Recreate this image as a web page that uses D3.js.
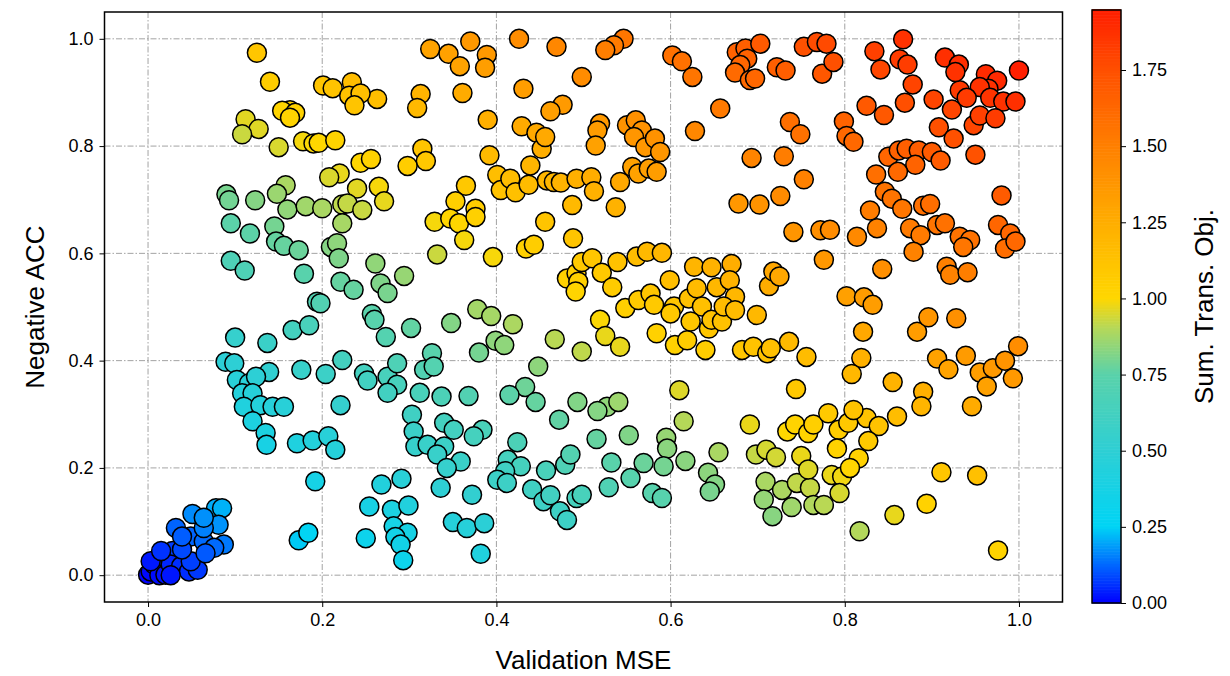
<!DOCTYPE html>
<html>
<head>
<meta charset="utf-8">
<script src="https://cdn.jsdelivr.net/npm/d3@7"></script>
<style>
  body { margin: 0; background: #fff; }
  text { font-family: "Liberation Sans", Arial, sans-serif; fill: #000; }
</style>
</head>
<body>
<svg id="chart" width="1230" height="676"></svg>
<script>
"use strict";

// values, grouped by area of the plot (x = Validation MSE, y = Negative ACC)
const mseTopLeft = [0.125,0.140,0.201,0.212,0.163,0.154,0.169,0.163,0.112,0.127,0.108,0.150,0.178,0.190,0.196,0.215,0.220,0.208,0.158,0.148,0.090,0.093,0.123,0.160,0.181,0.200,0.223];
const accTopLeft = [0.974,0.920,0.913,0.908,0.867,0.866,0.862,0.853,0.850,0.832,0.822,0.798,0.809,0.805,0.806,0.811,0.749,0.742,0.727,0.711,0.710,0.699,0.699,0.682,0.688,0.684,0.691];

const mseTopMid = [0.324,0.345,0.370,0.358,0.389,0.387,0.426,0.469,0.498,0.431,0.476,0.462,0.361,0.313,0.309,0.390,0.429,0.446,0.452,0.456,0.263,0.234,0.231,0.244,0.237,0.315,0.319,0.298,0.392,0.401,0.405,0.416,0.422,0.439,0.437,0.458,0.466,0.474,0.492,0.487,0.365,0.353,0.376,0.244,0.256,0.240,0.265,0.271,0.229,0.246];
const accTopMid = [0.981,0.972,0.995,0.949,0.970,0.946,1.000,0.985,0.929,0.907,0.877,0.865,0.899,0.897,0.871,0.849,0.837,0.825,0.795,0.817,0.888,0.919,0.894,0.898,0.876,0.795,0.772,0.763,0.783,0.746,0.718,0.739,0.714,0.764,0.728,0.736,0.733,0.732,0.739,0.690,0.726,0.697,0.683,0.769,0.776,0.721,0.724,0.697,0.693,0.681];

const mseTopRight = [0.546,0.535,0.525,0.602,0.613,0.625,0.676,0.686,0.688,0.680,0.674,0.691,0.697,0.703,0.722,0.732,0.753,0.768,0.774,0.657,0.628,0.737,0.749,0.693,0.730,0.753,0.726,0.678,0.702,0.519,0.516,0.514,0.509,0.512,0.537,0.542,0.550,0.560,0.567,0.558,0.571,0.582,0.588,0.556,0.563,0.575,0.584];
const accTopRight = [1.000,0.988,0.979,0.969,0.958,0.929,0.975,0.982,0.963,0.951,0.937,0.923,0.926,0.991,0.947,0.941,0.985,0.994,0.935,0.870,0.828,0.845,0.822,0.778,0.781,0.738,0.707,0.693,0.691,0.842,0.829,0.801,0.742,0.716,0.686,0.733,0.839,0.848,0.829,0.817,0.798,0.814,0.789,0.761,0.749,0.758,0.752];

const mseTopEdge = [0.779,0.787,0.867,0.834,0.841,0.863,0.872,0.878,0.869,0.825,0.845,0.799,0.802,0.810,0.902,0.908,0.923,0.925,0.932,0.915,0.931,0.927,0.962,0.975,0.965,0.955,0.967,0.982,0.996,1.000,0.940,0.948,0.955,0.973,0.950,0.980,0.850,0.862,0.871,0.885,0.900,0.910,0.881,0.861,0.836,0.846,0.854,0.866,0.890,0.898,0.829];
const accTopEdge = [0.991,0.957,0.999,0.977,0.943,0.962,0.952,0.915,0.881,0.875,0.858,0.846,0.819,0.808,0.887,0.835,0.868,0.814,0.904,0.965,0.952,0.938,0.934,0.922,0.907,0.910,0.890,0.883,0.883,0.941,0.890,0.839,0.857,0.852,0.784,0.708,0.780,0.792,0.795,0.792,0.789,0.773,0.765,0.752,0.747,0.715,0.702,0.683,0.689,0.692,0.680];

const mseMidLeft = [0.095,0.117,0.145,0.147,0.156,0.173,0.210,0.217,0.219,0.221,0.223,0.095,0.111,0.179,0.194,0.198,0.166,0.185,0.100,0.137,0.089,0.099,0.139,0.176,0.204,0.223,0.102,0.116,0.124,0.108,0.120,0.110,0.129,0.143,0.156,0.221];
const accMidLeft = [0.656,0.637,0.650,0.622,0.614,0.606,0.612,0.619,0.591,0.547,0.656,0.586,0.568,0.562,0.510,0.507,0.457,0.466,0.443,0.433,0.398,0.395,0.379,0.383,0.375,0.401,0.364,0.358,0.370,0.339,0.339,0.314,0.317,0.314,0.314,0.317];

const mseMid = [0.329,0.347,0.357,0.376,0.363,0.332,0.396,0.456,0.488,0.434,0.443,0.481,0.492,0.494,0.491,0.498,0.236,0.261,0.267,0.275,0.294,0.257,0.260,0.273,0.302,0.348,0.378,0.394,0.419,0.399,0.409,0.380,0.467,0.498,0.248,0.252,0.275,0.286,0.326,0.317,0.328,0.286,0.275,0.312,0.337,0.368,0.448,0.433,0.445,0.415,0.493];
const accMid = [0.659,0.665,0.656,0.668,0.625,0.598,0.593,0.659,0.628,0.609,0.616,0.553,0.563,0.547,0.529,0.584,0.532,0.581,0.544,0.526,0.558,0.487,0.476,0.444,0.461,0.470,0.496,0.483,0.468,0.437,0.429,0.415,0.440,0.417,0.376,0.363,0.370,0.395,0.414,0.383,0.389,0.355,0.340,0.340,0.333,0.334,0.389,0.351,0.323,0.336,0.323];

const mseMidRight = [0.741,0.772,0.776,0.510,0.521,0.539,0.561,0.573,0.590,0.533,0.548,0.563,0.577,0.581,0.599,0.604,0.600,0.584,0.605,0.619,0.621,0.630,0.636,0.623,0.644,0.647,0.659,0.640,0.627,0.647,0.670,0.653,0.668,0.674,0.661,0.674,0.699,0.713,0.718,0.725,0.682,0.695,0.711,0.715,0.736,0.756,0.744,0.519,0.525,0.542,0.610,0.527,0.540];
const accMidRight = [0.640,0.643,0.588,0.591,0.564,0.584,0.594,0.603,0.601,0.537,0.498,0.513,0.525,0.504,0.550,0.501,0.488,0.451,0.429,0.438,0.516,0.535,0.501,0.473,0.460,0.476,0.473,0.420,0.575,0.574,0.580,0.537,0.550,0.519,0.501,0.494,0.485,0.539,0.566,0.557,0.420,0.426,0.414,0.423,0.435,0.407,0.347,0.476,0.446,0.426,0.345,0.314,0.323];

const mseMidEdge = [0.837,0.814,0.875,0.887,0.906,0.915,0.879,0.932,0.944,0.936,0.976,0.990,0.984,0.996,0.783,0.843,0.917,0.921,0.941,0.802,0.822,0.832,0.883,0.896,0.928,0.821,0.819,0.808,0.855,0.906,0.919,0.939,0.955,0.963,0.970,0.984,0.993,0.999,0.890,0.946];
const accMidEdge = [0.647,0.631,0.647,0.634,0.653,0.656,0.603,0.631,0.625,0.612,0.653,0.637,0.609,0.622,0.644,0.571,0.575,0.560,0.565,0.520,0.518,0.504,0.454,0.481,0.479,0.454,0.405,0.375,0.360,0.404,0.384,0.409,0.378,0.352,0.386,0.400,0.367,0.427,0.342,0.315];

const mseLowLeft = [0.120,0.135,0.136,0.171,0.189,0.207,0.215,0.192,0.173,0.184,
  0.000,0.003,0.007,0.013,0.020,0.018,0.028,0.026,0.038,0.047,0.057,0.049,0.032,0.051,0.049,0.064,0.078,0.085,0.081,0.087,0.076,0.066,0.064,0.064,0.039,0.003,0.015,0.026,0.039];
const accLowLeft = [0.287,0.265,0.243,0.246,0.251,0.259,0.234,0.175,0.065,0.079,
  0.001,0.007,0.020,0.000,0.001,0.035,0.045,0.020,0.017,0.007,0.010,0.026,0.088,0.114,0.072,0.063,0.125,0.125,0.094,0.057,0.051,0.041,0.088,0.107,0.048,0.026,0.045,0.000,0.072];

const mseLowMid = [0.303,0.340,0.351,0.384,0.374,0.305,0.307,0.321,0.340,0.332,0.359,0.343,0.336,0.372,0.268,0.291,0.254,0.280,0.299,0.282,0.298,0.284,0.290,0.293,0.250,0.350,0.366,0.386,0.382,0.424,0.413,0.428,0.410,0.401,0.412,0.441,0.454,0.457,0.462,0.479,0.485,0.473,0.481,0.492,0.498,0.472];
const accLowMid = [0.299,0.284,0.271,0.271,0.259,0.268,0.240,0.243,0.240,0.225,0.212,0.200,0.163,0.150,0.169,0.180,0.128,0.122,0.130,0.091,0.079,0.071,0.057,0.028,0.069,0.099,0.088,0.097,0.040,0.248,0.215,0.203,0.194,0.178,0.172,0.160,0.138,0.195,0.149,0.206,0.225,0.119,0.103,0.144,0.150,0.290];

const mseLowRight = [0.516,0.515,0.552,0.595,0.596,0.615,0.617,0.592,0.569,0.532,0.554,0.529,0.579,0.590,0.655,0.643,0.651,0.645,0.691,0.698,0.710,0.721,0.709,0.707,0.717,0.728,0.739,0.745,0.760,0.764,0.750,0.758,0.734,0.743,0.758,0.764];
const accLowRight = [0.306,0.254,0.261,0.256,0.236,0.287,0.213,0.203,0.209,0.210,0.181,0.164,0.153,0.144,0.229,0.191,0.169,0.156,0.281,0.225,0.234,0.220,0.174,0.141,0.110,0.159,0.127,0.172,0.163,0.131,0.222,0.197,0.268,0.281,0.265,0.281];

const mseLowEdge = [0.781,0.793,0.804,0.825,0.839,0.860,0.888,0.827,0.791,0.816,0.785,0.797,0.806,0.794,0.776,0.911,0.952,0.894,0.857,0.817,0.976,0.810];
const accLowEdge = [0.302,0.271,0.284,0.293,0.278,0.296,0.315,0.250,0.236,0.218,0.187,0.184,0.200,0.153,0.131,0.192,0.186,0.133,0.112,0.082,0.046,0.308];

const xTicks = [0.0, 0.2, 0.4, 0.6, 0.8, 1.0];
const yTicks = [0.0, 0.2, 0.4, 0.6, 0.8, 1.0];
const cbTicks = [0.00, 0.25, 0.50, 0.75, 1.00, 1.25, 1.50, 1.75];

// colour map of the "Sum. Trans. Obj." bar
const cmapStops  = [0.0, 0.12, 0.25, 0.5, 0.75, 0.9, 1.0, 1.25, 1.5, 1.75, 1.947];
const cmapColors = ["#0000ff", "#0064ff", "#00d4f5", "#2ecfd4", "#5ad2aa", "#b4d85a", "#ffd700", "#ffad00", "#ff7f00", "#ff4f00", "#ff1e00"];


const mse = [].concat(mseTopLeft, mseTopMid, mseTopRight, mseTopEdge, mseMidLeft, mseMid, mseMidRight, mseMidEdge, mseLowLeft, mseLowMid, mseLowRight, mseLowEdge);
const acc = [].concat(accTopLeft, accTopMid, accTopRight, accTopEdge, accMidLeft, accMid, accMidRight, accMidEdge, accLowLeft, accLowMid, accLowRight, accLowEdge);
const points = mse.map((m, i) => ({ x: m, y: acc[i], s: m + acc[i] }));


const svg = d3.select("#chart");

const plotLeft = 104.5, plotRight = 1062.5, plotTop = 12, plotBottom = 602;

const x = d3.scaleLinear().domain([-0.05, 1.05]).range([plotLeft, plotRight]);
const y = d3.scaleLinear().domain([-0.05, 1.05]).range([plotBottom, plotTop]);
const color = d3.scaleLinear().domain(cmapStops).range(cmapColors).clamp(true);


    // grid

svg.append("g")
    .selectAll("line")
    .data(xTicks)
    .join("line")
        .attr("x1", d => x(d)).attr("x2", d => x(d))
        .attr("y1", plotTop).attr("y2", plotBottom)
        .attr("stroke", "#999").attr("stroke-width", 0.9)
        .attr("stroke-dasharray", "6,2,1.5,2");

svg.append("g")
    .selectAll("line")
    .data(yTicks)
    .join("line")
        .attr("y1", d => y(d)).attr("y2", d => y(d))
        .attr("x1", plotLeft).attr("x2", plotRight)
        .attr("stroke", "#999").attr("stroke-width", 0.9)
        .attr("stroke-dasharray", "6,2,1.5,2");


    // points

svg.append("g")
    .selectAll("circle")
    .data(points)
    .join("circle")
        .attr("cx", d => x(d.x))
        .attr("cy", d => y(d.y))
        .attr("r", 9.5)
        .attr("fill", d => color(d.s))
        .attr("stroke", "#000")
        .attr("stroke-width", 1.5);


    // axes

const xAxis = svg.append("g")
    .attr("transform", `translate(0,${plotBottom})`)
    .call(d3.axisBottom(x).tickValues(xTicks).tickFormat(d3.format(".1f")).tickSize(5).tickPadding(6));

const yAxis = svg.append("g")
    .attr("transform", `translate(${plotLeft},0)`)
    .call(d3.axisLeft(y).tickValues(yTicks).tickFormat(d3.format(".1f")).tickSize(5).tickPadding(6));

[xAxis, yAxis].forEach(a => {
    a.select(".domain").remove();
    a.selectAll("text").attr("font-size", 18).attr("fill", "#000")
        .style("font-family", "'Liberation Sans', Arial, sans-serif");
    a.selectAll("line").attr("stroke", "#000").attr("stroke-width", 1);
});

svg.append("rect")
    .attr("x", plotLeft).attr("y", plotTop)
    .attr("width", plotRight - plotLeft).attr("height", plotBottom - plotTop)
    .attr("fill", "none").attr("stroke", "#000").attr("stroke-width", 1.5);

svg.append("text")
    .attr("x", (plotLeft + plotRight) / 2).attr("y", 669)
    .attr("text-anchor", "middle").attr("font-size", 26)
    .text("Validation MSE");

svg.append("text")
    .attr("transform", `translate(44,${(plotTop + plotBottom) / 2}) rotate(-90)`)
    .attr("text-anchor", "middle").attr("font-size", 26)
    .text("Negative ACC");


    // colour bar

const cbX = 1092, cbW = 29, cbTop = 10, cbBottom = 603;
const cb = d3.scaleLinear().domain([0, 1.947]).range([cbBottom, cbTop]);
const steps = d3.range(0, 1.947, 0.005);

svg.append("g")
    .selectAll("rect")
    .data(steps)
    .join("rect")
        .attr("x", cbX)
        .attr("y", d => cb(d + 0.005))
        .attr("width", cbW)
        .attr("height", d => cb(d) - cb(d + 0.005) + 0.6)
        .attr("fill", d => color(d));

svg.append("rect")
    .attr("x", cbX).attr("y", cbTop)
    .attr("width", cbW).attr("height", cbBottom - cbTop)
    .attr("fill", "none").attr("stroke", "#000").attr("stroke-width", 1.5);

const cbAxis = svg.append("g")
    .attr("transform", `translate(${cbX + cbW},0)`)
    .call(d3.axisRight(cb).tickValues(cbTicks).tickFormat(d3.format(".2f")).tickSize(5).tickPadding(6));

cbAxis.select(".domain").remove();
cbAxis.selectAll("text").attr("font-size", 18).attr("fill", "#000")
    .style("font-family", "'Liberation Sans', Arial, sans-serif");
cbAxis.selectAll("line").attr("stroke", "#000");

svg.append("text")
    .attr("transform", `translate(1213,${(cbTop + cbBottom) / 2}) rotate(-90)`)
    .attr("text-anchor", "middle").attr("font-size", 26)
    .text("Sum. Trans. Obj.");

</script>
</body>
</html>
